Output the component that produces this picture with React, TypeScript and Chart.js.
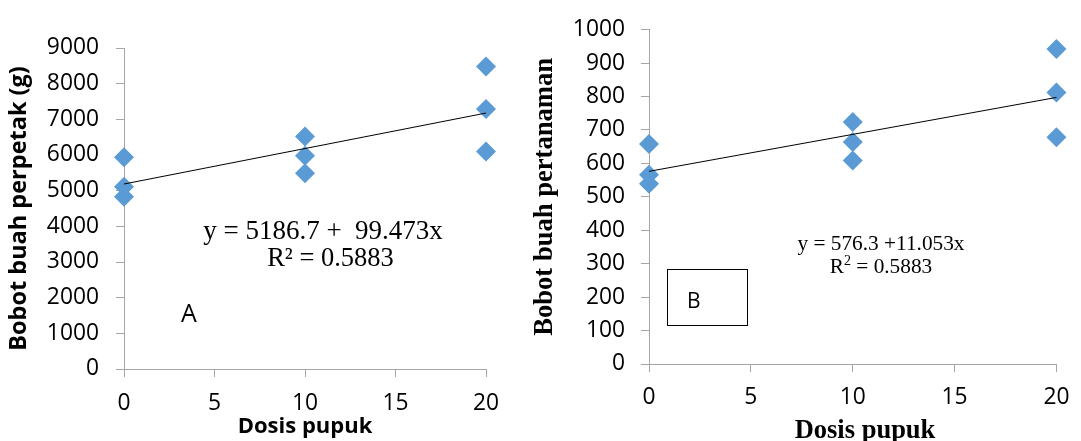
import React, { useEffect, useRef } from 'react';
import { Chart, registerables } from 'chart.js';

Chart.register(...registerables);

// ---- data ----
const doses = [0, 0, 0, 10, 10, 10, 20, 20, 20];
const weightPerPlot = [5940, 5110, 4830, 6520, 5980, 5490, 8480, 7290, 6100];
const weightPerPlant = [658, 566, 539, 724, 664, 609, 942, 812, 678];

const plotIntercept = 5186.7;
const plotSlope = 99.473;
const plantIntercept = 576.3;
const plantSlope = 11.053;
const fitRange = [0, 20];

const xTickStep = 5;
const plotYMax = 9000;
const plotYStep = 1000;
const plantYMax = 1000;
const plantYStep = 100;

const xTitle = 'Dosis pupuk';
const plotYTitle = 'Bobot buah perpetak (g)';
const plantYTitle = 'Bobot buah pertanaman';
const plotEquation = 'y = 5186.7 +  99.473x';
const plotR2 = 'R² = 0.5883';
const plantEquation = 'y = 576.3 +11.053x';
const plantR2Value = ' = 0.5883';
const panelA = 'A';
const panelB = 'B';

const SANS = "'Open Sans', sans-serif";
const SERIF = "'Liberation Serif', 'Times New Roman', serif";
const AXIS_GRAY = '#a6a6a6';
const MARKER = '#5b9bd5';
const TICK_SIZE = 22.8;

function makeConfig(p: any): any {
  const points = doses.map((d, i) => ({ x: d, y: p.values[i] }));
  const fit = fitRange.map((x) => ({ x, y: p.intercept + p.slope * x }));
  return {
    type: 'scatter',
    data: {
      datasets: [
        {
          data: fit,
          showLine: true,
          borderColor: '#000',
          borderWidth: 1,
          pointRadius: 0,
          clip: false,
          order: 0,
        },
        {
          data: points,
          pointStyle: 'rectRot',
          pointRadius: 10,
          pointHoverRadius: 10,
          backgroundColor: MARKER,
          borderWidth: 0,
          clip: false,
          order: 1,
        },
      ],
    },
    options: {
      responsive: false,
      animation: false,
      events: [],
      layout: { padding: p.padding },
      plugins: { legend: { display: false }, tooltip: { enabled: false } },
      scales: {
        x: {
          type: 'linear',
          min: 0,
          max: 20,
          afterFit: (s: any) => { s.height = p.xHeight; },
          ticks: {
            stepSize: xTickStep,
            padding: p.xTickPad,
            color: '#000',
            font: { family: SANS, size: TICK_SIZE },
            callback: (v: any) => String(v),
          },
          grid: { drawOnChartArea: false, drawTicks: true, tickLength: 8, color: AXIS_GRAY, lineWidth: 1 },
          border: { display: true, color: AXIS_GRAY, width: 1 },
          title: p.xTitle,
        },
        y: {
          type: 'linear',
          min: 0,
          max: p.yMax,
          afterFit: (s: any) => { s.width = p.yWidth; },
          ticks: {
            stepSize: p.yStep,
            padding: p.yTickPad,
            color: '#000',
            font: { family: SANS, size: TICK_SIZE },
            callback: (v: any) => String(v),
          },
          grid: { drawOnChartArea: false, drawTicks: true, tickLength: 8, color: AXIS_GRAY, lineWidth: 1 },
          border: { display: true, color: AXIS_GRAY, width: 1 },
          title: p.yTitle,
        },
      },
    },
    plugins: [p.notes],
  };
}

const plotNotes = {
  id: 'plotNotes',
  afterDraw(chart: any) {
    const ctx = chart.ctx;
    ctx.save();
    ctx.fillStyle = '#000';
    ctx.textBaseline = 'alphabetic';
    ctx.textAlign = 'center';
    ctx.font = `27px ${SERIF}`;
    ctx.fillText(plotEquation, 323, 238.5);
    ctx.font = `26.5px ${SERIF}`;
    ctx.fillText(plotR2, 330.5, 266);
    ctx.textAlign = 'left';
    ctx.font = `25px ${SANS}`;
    ctx.fillText(panelA, 181, 321.5);
    ctx.restore();
  },
};

const plantNotes = {
  id: 'plantNotes',
  afterDraw(chart: any) {
    const ctx = chart.ctx;
    ctx.save();
    ctx.fillStyle = '#000';
    ctx.textBaseline = 'alphabetic';
    ctx.textAlign = 'center';
    ctx.font = `21.3px ${SERIF}`;
    ctx.fillText(plantEquation, 351, 250);
    // R² with a raised 2
    ctx.textAlign = 'left';
    const main = `21.3px ${SERIF}`;
    const sup = `14px ${SERIF}`;
    ctx.font = main;
    const wR = ctx.measureText('R').width;
    const wRest = ctx.measureText(plantR2Value).width;
    ctx.font = sup;
    const w2 = ctx.measureText('2').width;
    const total = wR + w2 + wRest;
    let x = 351 - total / 2;
    ctx.font = main;
    ctx.fillText('R', x, 273.3);
    x += wR;
    ctx.font = sup;
    ctx.fillText('2', x, 264.5);
    x += w2;
    ctx.font = main;
    ctx.fillText(plantR2Value, x, 273.3);
    // box B
    ctx.strokeStyle = '#000';
    ctx.lineWidth = 1;
    ctx.strokeRect(137.5, 269.5, 80, 56);
    ctx.font = `21px ${SANS}`;
    ctx.fillText(panelB, 157, 308.3);
    // x axis title
    ctx.textAlign = 'center';
    ctx.font = `bold 26.5px ${SERIF}`;
    ctx.fillText(xTitle, 335, 438);
    ctx.restore();
  },
};

export default function App() {
  const leftRef = useRef<HTMLCanvasElement>(null);
  const rightRef = useRef<HTMLCanvasElement>(null);

  useEffect(() => {
    const left = new Chart(leftRef.current as HTMLCanvasElement, makeConfig({
      values: weightPerPlot,
      intercept: plotIntercept,
      slope: plotSlope,
      yMax: plotYMax,
      yStep: plotYStep,
      padding: { top: 48, right: 44, left: 0, bottom: 0 },
      xHeight: 72,
      yWidth: 124,
      yTickPad: 17,
      xTickPad: 12.5,
      xTitle: {
        display: true,
        text: xTitle,
        color: '#000',
        font: { family: SANS, size: 22, weight: 'bold' },
        padding: { top: 0, bottom: 1 },
      },
      yTitle: {
        display: true,
        text: plotYTitle,
        color: '#000',
        font: { family: SANS, size: 23.5, weight: 'bold' },
        padding: { top: 5.5, bottom: 0 },
      },
      notes: plotNotes,
    }));
    const right = new Chart(rightRef.current as HTMLCanvasElement, makeConfig({
      values: weightPerPlant,
      intercept: plantIntercept,
      slope: plantSlope,
      yMax: plantYMax,
      yStep: plantYStep,
      padding: { top: 23, right: 16, left: 0, bottom: 0 },
      xHeight: 77,
      yWidth: 119,
      yTickPad: 16,
      xTickPad: 11.5,
      xTitle: { display: false },
      yTitle: {
        display: true,
        text: plantYTitle,
        color: '#000',
        font: { family: SERIF, size: 26.6, weight: 'bold', lineHeight: 1 },
        padding: { top: 1.5, bottom: 0 },
      },
      notes: plantNotes,
    }));
    return () => {
      left.destroy();
      right.destroy();
    };
  }, []);

  return (
    <div style={{ position: 'absolute', left: 0, top: 0, width: 1081, height: 441, background: '#fff', overflow: 'hidden' }}>
      <canvas ref={leftRef} width={530} height={441} style={{ position: 'absolute', left: 0, top: 0 }} />
      <canvas ref={rightRef} width={551} height={441} style={{ position: 'absolute', left: 530, top: 0 }} />
    </div>
  );
}
